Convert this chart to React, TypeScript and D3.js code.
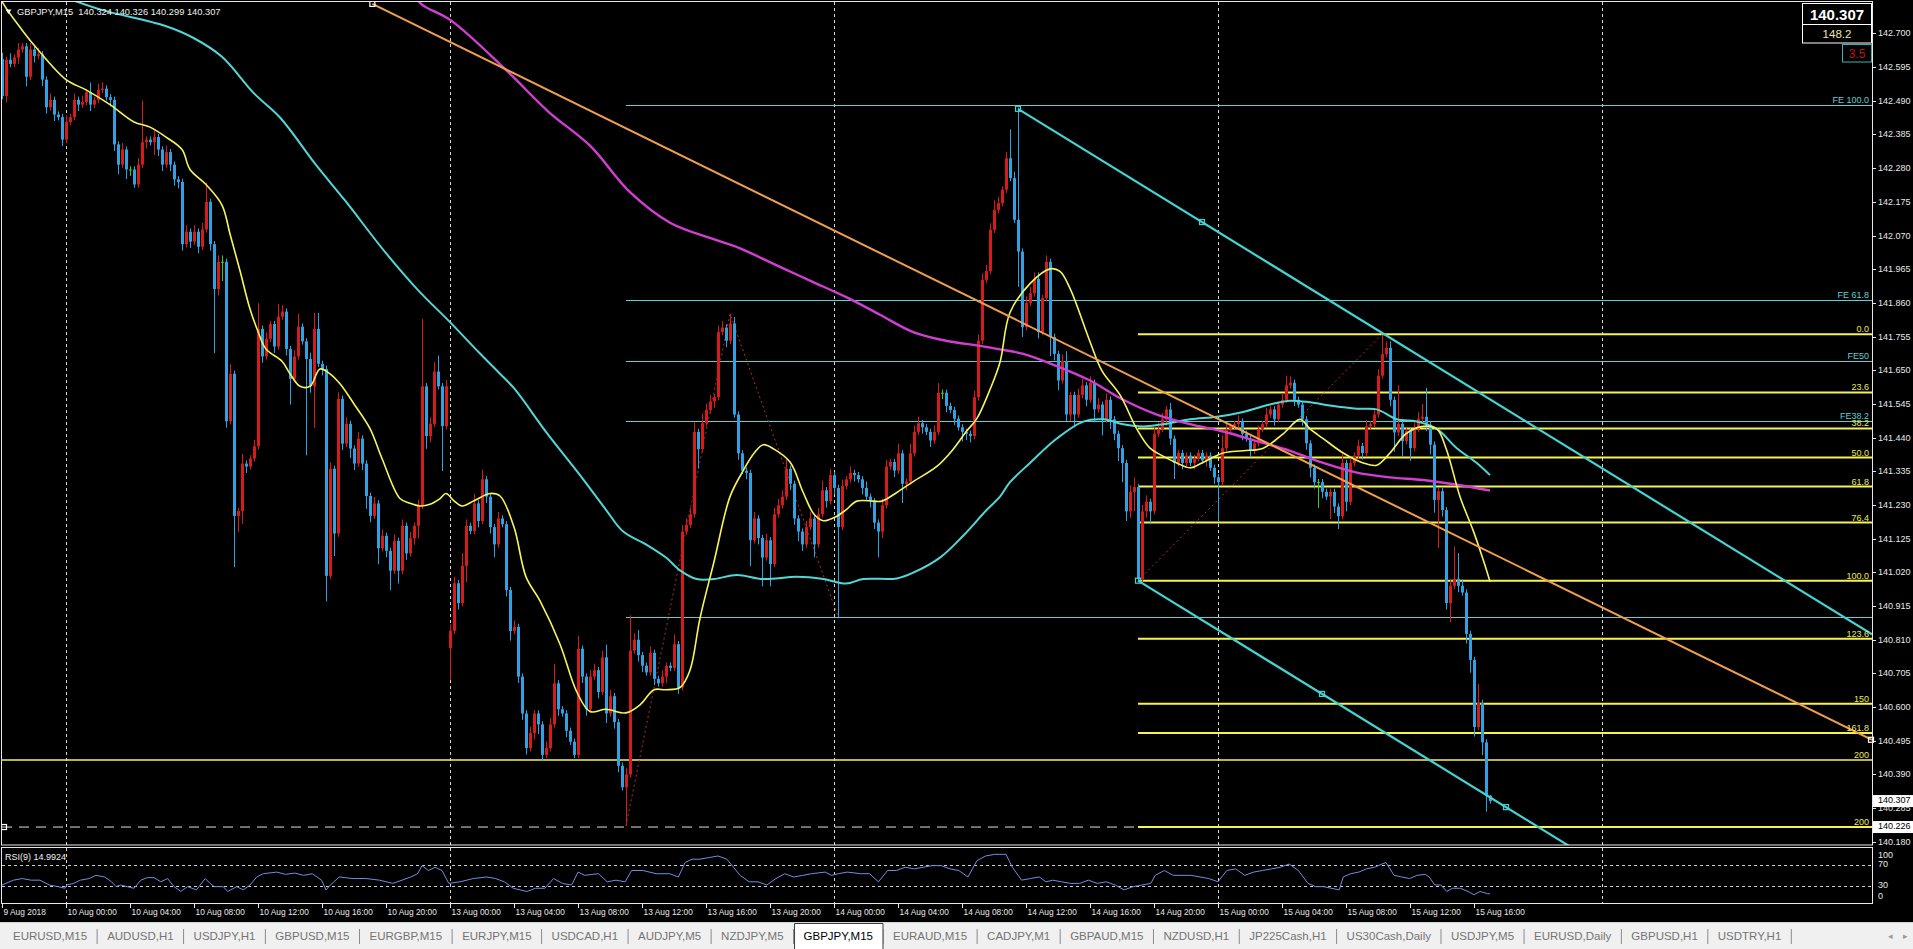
import React from "react";
import * as d3 from "d3";

// ---------------- data ----------------
const closes = [
  142.505,142.618,142.605,142.625,142.650,142.660,142.565,142.650,142.630,142.635,
  142.556,142.470,142.493,142.447,142.439,142.369,142.424,142.439,142.493,142.478,
  142.486,142.517,142.478,142.493,142.524,142.528,142.501,142.493,142.354,142.291,
  142.338,142.276,142.276,142.229,142.291,142.361,142.369,142.361,142.377,142.338,
  142.291,142.330,142.291,142.245,142.237,142.043,142.082,142.051,142.082,142.035,
  142.089,142.175,142.043,141.903,141.988,141.988,141.491,141.639,141.196,141.211,
  141.359,141.350,141.375,141.413,141.779,141.693,141.748,141.794,141.724,141.817,
  141.833,141.716,141.623,141.693,141.786,141.740,141.685,141.600,141.779,141.670,
  141.654,141.009,141.343,141.141,141.561,141.421,141.483,141.406,141.359,141.437,
  141.359,141.258,141.196,141.235,141.095,141.134,141.087,141.025,141.118,141.025,
  141.165,141.079,141.126,141.165,141.227,141.600,141.445,141.483,141.646,141.600,
  141.476,141.600,140.838,140.986,140.924,141.040,141.165,141.149,141.235,141.180,
  141.310,141.256,141.161,141.107,141.188,141.170,140.965,140.837,140.850,140.695,
  140.580,140.472,140.519,140.580,140.546,140.451,140.472,140.546,140.674,140.593,
  140.580,140.526,140.492,140.451,140.782,140.695,140.593,140.695,140.715,140.647,
  140.755,140.580,140.634,140.553,140.417,140.350,140.390,140.776,140.810,140.762,
  140.729,140.708,140.769,140.688,140.674,140.695,140.729,140.722,140.796,140.661,
  141.147,141.168,141.201,141.458,141.404,141.485,141.526,141.553,141.566,141.769,
  141.783,141.742,141.796,141.512,141.391,141.337,141.330,141.120,141.188,141.127,
  141.066,141.120,141.046,141.201,141.229,141.256,141.343,141.296,141.188,141.147,
  141.107,141.161,141.188,141.107,141.201,141.276,141.242,141.323,141.283,141.161,
  141.289,141.310,141.330,141.323,141.310,141.283,141.256,141.242,141.175,141.147,
  141.229,141.350,141.364,141.337,141.391,141.296,141.303,141.391,141.458,141.485,
  141.472,141.458,141.431,141.458,141.580,141.580,141.539,141.526,141.499,141.472,
  141.458,141.452,141.445,141.566,141.742,141.932,141.959,142.088,142.150,142.171,
  142.213,142.311,142.249,142.119,142.020,141.784,141.860,141.890,141.935,141.769,
  141.875,141.988,141.754,141.701,141.618,141.679,141.512,141.573,141.512,141.573,
  141.603,141.558,141.611,141.528,141.543,141.497,141.558,141.497,141.452,141.407,
  141.361,141.210,141.271,141.286,140.999,141.210,141.240,141.210,141.452,141.467,
  141.497,141.528,141.437,141.361,141.392,141.361,141.384,141.361,141.376,141.392,
  141.369,141.384,141.346,141.316,141.301,141.407,141.467,141.475,141.482,141.490,
  141.452,141.437,141.399,141.422,141.467,141.482,141.512,141.528,141.497,141.543,
  141.558,141.603,141.611,141.558,141.543,141.497,141.422,141.346,141.301,141.301,
  141.271,141.256,141.271,141.225,141.195,141.361,141.240,141.361,141.384,141.414,
  141.392,141.475,141.482,141.512,141.633,141.700,141.720,141.558,141.456,141.483,
  141.429,141.461,141.407,141.467,141.499,141.505,141.480,141.418,141.246,141.273,
  141.214,140.924,140.978,141.000,140.978,140.957,140.828,140.747,140.538,140.613,
  140.490,140.324,140.307,
];
// upper / lower shadow lengths, in 0.01 yen
const wickUp = [
  2,1,2,1,2,1,1,2,1,2, 1,1,2,1,1,1,2,1,2,1, 2,1,3,1,2,2,1,1,1,1, 2,1,1,1,2,13,1,1,2,1,
  1,2,1,1,1,1,2,1,2,1, 2,6,1,1,2,2,1,3,1,1, 3,1,1,2,8,1,2,1,1,4, 2,1,1,2,4,1,1,2,5,5,
  1,1,2,1,2,1,2,1,1,2, 1,1,1,2,1,2,1,1,2,1, 2,1,2,1,2,21,1,2,3,5, 1,2,2,2,1,4,2,1,3,1,
  3,1,1,1,2,1,1,1,2,1, 1,1,2,1,1,1,2,2,6,1, 1,1,1,1,4,1,1,2,2,1, 2,4,2,1,1,1,2,11,2,3,
  1,1,2,1,1,2,1,1,3,1, 2,2,2,3,1,3,2,2,1,2, 2,1,3,2,1,1,1,1,2,1, 1,2,1,2,2,2,3,1,1,1,
  1,2,2,1,2,3,1,2,1,1, 2,1,2,1,1,1,2,1,1,1, 2,2,1,1,3,1,1,3,2,2, 1,1,1,2,3,1,1,1,1,1,
  1,1,1,2,2,2,2,2,3,2, 1,2,9,2,35,1,2,2,2,2, 1,2,1,1,1,2,3,1,1,2, 2,1,2,1,2,1,2,1,1,1,
  1,1,2,3,1,2,2,1,2,2, 2,1,2,1,1,1,1,1,1,1, 1,1,1,1,1,4,2,1,1,2, 1,1,1,1,1,1,2,1,1,1,
  2,3,2,1,1,1,1,1,1,1, 1,1,1,1,1,3,1,2,1,2, 1,2,1,2,2,6,2,2,1,12, 1,1,1,2,2,4,9,1,1,1,
  1,1,2,10,8,2,1,1,1,6, 1,1,0.2,
];
const wickDn = [
  1,2,1,1,2,1,3,1,2,1, 2,2,1,2,1,2,1,1,1,2, 1,1,2,1,1,1,1,2,2,3, 1,3,2,1,1,1,2,1,4,2,
  2,1,2,2,2,2,1,2,1,2, 1,1,2,20,2,6,2,1,16,5, 4,2,1,1,1,2,1,1,2,1, 1,2,8,1,1,1,30,2,13,1,
  2,8,1,7,1,2,1,3,2,1, 2,4,2,1,5,1,2,6,1,4, 1,2,1,2,4,1,4,2,1,1, 14,1,10,1,2,1,5,1,1,2,
  1,2,2,4,1,1,2,3,1,2, 2,2,1,2,3,2,1,1,1,2, 1,2,1,1,1,2,2,1,1,2, 1,3,1,2,2,1,12,1,1,2,
  2,1,1,2,1,1,2,1,1,2, 1,1,1,1,6,1,1,1,2,1, 1,2,1,1,2,1,2,8,1,2, 9,1,7,1,1,1,1,2,2,3,
  2,1,1,4,1,1,2,1,2,28, 1,1,1,2,1,2,1,2,2,8, 2,1,1,2,1,6,2,1,1,1, 2,1,2,1,1,2,2,1,2,1,
  3,2,2,1,1,1,1,1,1,1, 1,1,1,1,11,3,1,1,1,2, 1,1,6,2,3,1,2,2,4,1, 1,2,1,4,1,5,1,3,2,4,
  6,3,2,6,1,1,2,4,1,1, 1,2,2,5,1,2,1,1,2,1, 1,2,1,2,12,1,1,1,1,1, 2,1,2,1,1,1,1,1,2,1,
  1,1,1,2,1,2,2,3,2,8, 2,1,7,2,4,1,3,1,1,1, 2,1,1,1,1,1,1,2,6,1, 5,1,4,1,1,1,2,3,4,15,
  2,2,6,1,2,1,3,4,3,1, 4,5,0.8,
];
const firstOpen = 142.62;
const gapOpens: Record<number, number> = { 112: 140.784 };

// moving averages: [bar index, price]
const yellowMA: [number, number][] = [
  [-1,142.84],[0,142.80],[5,142.711],[9,142.649],[16,142.556],[21,142.524],[27,142.478],[33,142.424],[37,142.408],[41,142.377],
  [45,142.338],[47,142.276],[51,142.229],[55,142.165],[57,142.075],[59.5,141.960],[62,141.841],[64,141.771],[66,141.716],[70,141.678],
  [72,141.639],[74.5,141.600],[77,141.600],[79.5,141.654],[82,141.639],[84.5,141.608],[88,141.545],[92,141.468],[95,141.375],[99.5,141.250],
  [102,141.235],[104.5,141.227],[107,141.232],[109.5,141.250],[111,141.266],[113,141.243],[115,141.227],[118,141.243],[122,141.266],[124.5,141.258],
  [128,141.161],[131,141.006],[134.5,140.931],[139.5,140.796],[143.7,140.647],[147,140.586],[151,140.593],[156,140.582],[159.5,140.607],[163,140.654],
  [166,140.654],[169.5,140.661],[172,140.715],[174.5,140.877],[178,141.053],[182,141.256],[185.3,141.337],[188,141.391],[190.3,141.418],[193,141.404],
  [197,141.364],[200.3,141.269],[203,141.201],[205.3,141.181],[208.7,141.195],[211,141.215],[213.7,141.242],[217.8,141.242],[220,141.242],[223.7,141.269],
  [227.8,141.303],[233.7,141.350],[237.8,141.404],[241,141.458],[243.7,141.499],[247,141.590],[249.5,141.675],[252,141.830],[257,141.920],[262,141.966],
  [264.5,141.958],[267,141.905],[272,141.739],[275,141.648],[279.5,141.573],[283.7,141.467],[287,141.407],[290,141.384],[293.7,141.361],[297,141.346],
  [300,141.361],[305.3,141.392],[310.3,141.399],[315.3,141.407],[320.3,141.452],[324.5,141.497],[327,141.467],[330.3,141.437],[335.3,141.392],[340.3,141.361],
  [343.7,141.354],[347,141.392],[351,141.452],[355.3,141.475],[358.7,141.467],[361,141.407],[364.5,141.256],[367.8,141.150],[370.3,141.059],[372,140.991],
];
const cyanMA: [number, number][] = [
  [12,142.83],[24.5,142.775],[40.7,142.724],[48,142.685],[55,142.627],[63,142.513],[69.5,142.438],[78.5,142.290],[85.7,142.180],[96,142.015],
  [104,141.900],[112,141.800],[119.5,141.702],[124.5,141.639],[128,141.594],[136,141.458],[144.5,141.323],[151,141.215],[155.3,141.147],[161,141.107],
  [166,141.066],[169.5,141.026],[173.7,140.999],[178,140.999],[183.7,141.012],[190.3,140.999],[198.7,141.006],[205.3,140.999],[211,140.985],[215.3,140.999],
  [223.7,141.001],[227.8,141.019],[234.5,141.066],[240.3,141.134],[246.2,141.215],[249.5,141.256],[252,141.301],[257,141.361],[263.7,141.437],[270.3,141.490],
  [275.3,141.497],[280.3,141.482],[285.3,141.475],[290.3,141.482],[297,141.497],[303.7,141.505],[310.3,141.520],[317,141.543],[322,141.555],[327,141.550],
  [332,141.540],[338.7,141.530],[343.7,141.528],[348.7,141.497],[353.7,141.490],[358.7,141.467],[363.7,141.407],[368.7,141.361],[372,141.323],
];
const magentaMA: [number, number][] = [
  [103,142.82],[105,142.79],[112.3,142.74],[126.5,142.58],[136.7,142.455],[147,142.35],[157,142.205],[167,142.11],[177.5,142.06],[184.5,142.03],
  [194.5,141.972],[202.8,141.925],[211.2,141.877],[219.5,141.823],[227.8,141.769],[236,141.742],[244.5,141.726],[249.5,141.715],[255.3,141.701],[263.7,141.663],
  [272,141.618],[280.3,141.558],[288.7,141.512],[297,141.482],[305.3,141.459],[313.7,141.429],[322,141.399],[330.3,141.361],[338.7,141.331],[347,141.316],
  [355.3,141.308],[363.7,141.293],[372,141.275],
];
// RSI(9): [bar index, value]
const rsiSeries: [number, number][] = [
  [0,31.9],[2.85,41.1],[5.1,44.2],[7.3,41.1],[9.5,41.1],[11.8,31.9],[14,28.8],[15.7,25.7],[16.2,31.9],[17.9,35.0],
  [19.6,41.1],[21.8,44.2],[23.5,50.3],[25.7,47.2],[27.4,38.0],[28.5,28.8],[29.6,31.9],[31.3,28.8],[33,25.7],[34.7,41.1],
  [36.3,46.0],[38,46.0],[39.7,38.0],[41.4,44.2],[43,28.8],[44.7,19.6],[46.4,28.8],[48.6,22.6],[50.8,44.2],[52,35.0],
  [53.1,28.8],[55.3,28.8],[56.4,19.6],[58.7,28.8],[60.3,22.6],[62,31.9],[63.7,47.2],[65.3,53.4],[68.7,56.5],[70.9,52.2],
  [73.2,54.6],[75.4,50.3],[77.6,53.4],[79.9,41.1],[81,22.6],[82.1,31.9],[84.3,47.2],[87.7,44.2],[91,44.2],[94.4,41.1],
  [97.7,35.0],[100,41.1],[102.2,47.2],[103.9,53.4],[105,68.8],[106.6,59.5],[108.3,65.7],[110,59.5],[111.7,35.0],[114.5,38.0],
  [117.8,44.2],[121.2,47.2],[123.4,44.2],[125.6,38.0],[127.8,25.7],[131.2,19.6],[133.4,25.7],[135.7,25.7],[137.9,44.2],[140.1,35.0],
  [142.4,31.9],[144,56.5],[145.7,50.3],[149.1,53.4],[151.3,38.0],[153.5,41.1],[155.8,38.0],[157.4,59.5],[160.2,59.5],[163.6,53.4],
  [166.9,53.4],[169.1,47.2],[170.8,74.9],[172.5,81.1],[174.5,81.1],[176.7,84.1],[179,87.2],[181.2,81.1],[182.9,65.7],[184.5,50.3],
  [186.8,38.0],[189,38.0],[191.2,31.9],[193.5,44.2],[195.7,53.4],[197.9,47.2],[200.2,50.3],[202.4,53.4],[205.8,56.5],[207.4,50.3],
  [209.1,53.4],[211.3,56.5],[214.7,53.4],[216.9,53.4],[219.1,38.0],[221.4,59.5],[223.6,59.5],[225.8,65.7],[228.1,62.6],[230.3,65.7],
  [232.5,68.8],[234.8,68.8],[237,62.6],[239.2,59.5],[241.5,47.2],[243.7,78.0],[245.9,87.2],[248.2,90.3],[251,90.3],[252.6,65.7],
  [254.9,41.1],[257.1,44.2],[259.3,47.2],[261,38.0],[262.7,41.1],[264.9,38.0],[267.1,35.0],[269.4,35.0],[271.6,41.1],[273.8,35.0],
  [276.1,38.0],[278.3,31.9],[280.5,22.6],[282.8,28.8],[285,31.9],[287.2,35.0],[288.3,50.3],[290.6,59.5],[292.8,50.3],[295,50.3],
  [297.3,50.3],[299.5,47.2],[301.7,44.2],[304,38.0],[306.2,59.5],[308.4,62.6],[310.7,50.3],[312.9,56.5],[315.1,59.5],[317.4,62.6],
  [319.6,65.7],[321.8,71.8],[324.1,59.5],[326.5,35.0],[328.4,28.8],[330.4,28.8],[332.3,25.7],[334.3,22.6],[335.3,47.2],[337.2,53.4],
  [339.2,56.5],[341.1,62.6],[343.1,65.7],[345,71.8],[346,74.9],[348,50.3],[349.9,47.2],[351.9,44.2],[353.8,50.3],[355.8,52.2],
  [356.8,47.2],[358.2,31.9],[359.7,31.9],[361.2,19.6],[362.6,25.7],[364.6,25.7],[366.5,19.6],[368,13.4],[369.5,19.6],[371.4,15.3],
  [372,14.99],
];

const priceTicks = [
  "142.700","142.595","142.490","142.385","142.280","142.175","142.070","141.965","141.860","141.755",
  "141.650","141.545","141.440","141.335","141.230","141.125","141.020","140.915","140.810","140.705",
  "140.600","140.495","140.390","140.285","140.180",
];
const rsiTicks = [100, 70, 30, 0];
const rsiLevels = [70, 30];
const timeLabels = [
  "9 Aug 2018","10 Aug 00:00","10 Aug 04:00","10 Aug 08:00","10 Aug 12:00","10 Aug 16:00","10 Aug 20:00",
  "13 Aug 00:00","13 Aug 04:00","13 Aug 08:00","13 Aug 12:00","13 Aug 16:00","13 Aug 20:00",
  "14 Aug 00:00","14 Aug 04:00","14 Aug 08:00","14 Aug 12:00","14 Aug 16:00","14 Aug 20:00",
  "15 Aug 00:00","15 Aug 04:00","15 Aug 08:00","15 Aug 12:00","15 Aug 16:00",
];
const barsPerLabel = 16;
const barsPerDay = 96;
const tabNames = [
  "EURUSD,M15","AUDUSD,H1","USDJPY,H1","GBPUSD,M15","EURGBP,M15","EURJPY,M15","USDCAD,H1","AUDJPY,M5",
  "NZDJPY,M5","GBPJPY,M15","EURAUD,M15","CADJPY,M1","GBPAUD,M15","NZDUSD,H1","JP225Cash,H1","US30Cash,Daily",
  "USDJPY,M5","EURUSD,Daily","GBPUSD,H1","USDTRY,H1",
];
const activeTab = "GBPJPY,M15";

// Fibonacci expansion (cyan) anchors A, B, C
const feA: [number, number] = [156, 140.23];
const feB: [number, number] = [182, 141.826];
const feC: [number, number] = [209, 140.882];
const feRatios = [1, 0.618, 0.5, 0.382, 0];
const feNames = ["FE 100.0", "FE 61.8", "FE50", "FE38.2", ""];
// Fibonacci retracement (yellow)
const fibLow: [number, number] = [284, 140.994];
const fibHigh: [number, number] = [345, 141.762];
const fibRatios = [0, 0.236, 0.382, 0.5, 0.618, 0.764, 1, 1.236, 1.5, 1.618, 2];
const fibNames = ["0.0", "23.6", "38.2", "50.0", "61.8", "76.4", "100.0", "123.6", "150", "161.8", "200"];
// channel & trend line anchors
const chanP1: [number, number] = [254, 142.465];
const chanP2: [number, number] = [300, 142.112];
const chanP3: [number, number] = [284, 140.994];
const orangeP1: [number, number] = [92.6, 142.792];
const orangeP2: [number, number] = [467.5, 140.498];
const levelLine = { price: 140.435, label: "200" };
const dashedLevel = 140.226;
const header = ["GBPJPY,M15", "140.324", "140.326", "140.299", "140.307"];
const rsiName = "RSI(9) 14.9924";
const bidPrice = 140.307;
const infoValues = ["140.307", "148.2", "3.5"];

// ---------------- component ----------------
const FONT = "'Liberation Sans', Arial, sans-serif";
const AX = 1872;
const MT = 2, MB = 845;
const RT = 848, RB = 903;

function measure(t: string, f: string) {
  const c = document.createElement("canvas").getContext("2d");
  if (!c) return t.length * 6;
  c.font = f;
  return c.measureText(t).width;
}

export default function App() {
  const x = d3.scaleLinear().domain([0, 467.5]).range([2, AX]);
  const y = d3.scaleLinear().domain([140.17, 142.798]).range([MB, MT]);
  const ry = d3.scaleLinear().domain([0, 100]).range([901.75, 849.25]);

  const maLine = d3.line<[number, number]>().x(d => x(d[0])).y(d => y(d[1])).curve(d3.curveCatmullRom.alpha(0.5));
  const rsiLine = d3.line<[number, number]>().x(d => x(d[0])).y(d => ry(d[1]));

  // candles
  const candles = closes.map((c, i) => {
    const o = i === 0 ? firstOpen : (gapOpens[i] ?? closes[i - 1]);
    const top = Math.max(o, c), bot = Math.min(o, c);
    const h = top + wickUp[i] * 0.01, l = bot - wickDn[i] * 0.01;
    const cx = Math.round(x(i));
    const col = c > o ? "#d41c1c" : c < o ? "#2ea2e2" : "#3cc83c";
    const yt = y(top), yb = y(bot);
    return (
      <g key={i}>
        <rect x={cx} y={y(h)} width={1} height={Math.max(1, y(l) - y(h))} fill={col} />
        <rect x={cx - 1} y={yt} width={3} height={Math.max(1, yb - yt)} fill={col} />
      </g>
    );
  });

  // grid day lines
  const dayBars: number[] = [];
  for (let b = barsPerLabel; x(b) < AX; b += barsPerDay) dayBars.push(b);

  // FE levels
  const feRange = feB[1] - feA[1];
  const feLines = feRatios.map((r, k) => ({ p: feC[1] + r * feRange, name: feNames[k] }));
  const fibRange = fibHigh[1] - fibLow[1];
  const fibLines = fibRatios.map((r, k) => ({ p: fibHigh[1] - r * fibRange, name: fibNames[k] }));

  // channel
  const slope = (chanP2[1] - chanP1[1]) / (chanP2[0] - chanP1[0]);
  const iEnd = 467.5;
  const step = chanP2[0] - chanP1[0];
  const lowerSquares = [0, 1, 2].map(k => [chanP3[0] + k * step, chanP3[1] + k * step * slope] as [number, number]);
  const lowerEndI = 420;

  // tabs layout
  const tabFont = `11.5px ${FONT}`;
  let cur = 13;
  const tabs = tabNames.map(n => {
    const w = measure(n, tabFont);
    const t = { n, x: cur, w };
    cur += w + 20;
    return t;
  });

  const white = "#e8e8e8";
  const sq = (px: number, py: number, col: string, k: string) => (
    <rect key={k} x={px - 2.5} y={py - 2.5} width={5} height={5} fill="none" stroke={col} strokeWidth={1.2} />
  );

  return (
    <div style={{ position: "absolute", left: 0, top: 0, width: 1913, height: 949, overflow: "hidden" }}>
      <svg width={1913} height={949} style={{ display: "block", fontFamily: FONT }}>
        <defs>
          <clipPath id="mainClip"><rect x={2} y={MT} width={AX - 2} height={MB - MT} /></clipPath>
          <clipPath id="rsiClip"><rect x={2} y={RT} width={AX - 2} height={RB - RT} /></clipPath>
        </defs>
        <rect x={0} y={0} width={1913} height={949} fill="#000" />

        {/* ---------- main panel ---------- */}
        <g clipPath="url(#mainClip)">
          {dayBars.map(b => (
            <line key={b} x1={x(b) + 0.5} x2={x(b) + 0.5} y1={MT} y2={MB} stroke="#d8d8d8" strokeDasharray="3,3" strokeWidth={1} />
          ))}
          {/* FE cyan */}
          {feLines.map((f, k) => (
            <line key={"fe" + k} x1={x(feA[0])} x2={AX} y1={Math.round(y(f.p)) + 0.5} y2={Math.round(y(f.p)) + 0.5} stroke="#5cd0d4" strokeWidth={1} />
          ))}
          {/* dashed horizontal */}
          <line x1={2} x2={AX} y1={y(dashedLevel)} y2={y(dashedLevel)} stroke="#e0e0e0" strokeDasharray="10,7" strokeWidth={1} />
          {/* full yellow level */}
          <line x1={2} x2={AX} y1={y(levelLine.price)} y2={y(levelLine.price)} stroke="#f4f25a" strokeWidth={1.6} />
          {/* yellow fib */}
          {fibLines.map((f, k) => (
            <line key={"fib" + k} x1={x(fibLow[0])} x2={AX} y1={y(f.p)} y2={y(f.p)} stroke="#f6f44c" strokeWidth={2} />
          ))}
          {/* red dotted fib trend lines */}
          <path d={`M${x(feA[0])},${y(feA[1])}L${x(feB[0])},${y(feB[1])}L${x(feC[0])},${y(feC[1])}`} fill="none" stroke="#b03030" strokeDasharray="2,3" strokeWidth={1} />
          <line x1={x(fibLow[0])} y1={y(fibLow[1])} x2={x(fibHigh[0])} y2={y(fibHigh[1])} stroke="#b03030" strokeDasharray="2,3" strokeWidth={1} />

          {candles}

          {/* moving averages */}
          <path d={maLine(cyanMA) || ""} fill="none" stroke="#52d6d6" strokeWidth={2} />
          <path d={maLine(magentaMA) || ""} fill="none" stroke="#d23ed2" strokeWidth={2.4} />
          <path d={maLine(yellowMA) || ""} fill="none" stroke="#f8f45c" strokeWidth={1.6} />

          {/* orange trend line */}
          <line x1={x(orangeP1[0])} y1={y(orangeP1[1])} x2={x(orangeP2[0])} y2={y(orangeP2[1])} stroke="#f0a04c" strokeWidth={2} />
          {sq(x(orangeP1[0]), y(orangeP1[1]), "#ffffff", "o1")}

          {/* channel */}
          <line x1={x(chanP1[0])} y1={y(chanP1[1])} x2={x(iEnd)} y2={y(chanP1[1] + (iEnd - chanP1[0]) * slope)} stroke="#44d4d4" strokeWidth={2.2} />
          <line x1={x(chanP3[0])} y1={y(chanP3[1])} x2={x(lowerEndI)} y2={y(chanP3[1] + (lowerEndI - chanP3[0]) * slope)} stroke="#44d4d4" strokeWidth={2.2} />
          {sq(x(chanP1[0]), y(chanP1[1]), "#44d4d4", "c1")}
          {sq(x(chanP2[0]), y(chanP2[1]), "#44d4d4", "c2")}
          {lowerSquares.map((p, k) => sq(x(p[0]), y(p[1]), "#44d4d4", "l" + k))}
          {sq(4, y(dashedLevel), "#ffffff", "dl")}
        </g>
        {sq(AX - 1, y(orangeP2[1]), "#ffffff", "o2")}

        {/* labels of levels */}
        {feLines.filter(f => f.name).map((f, k) => (
          <text key={"fel" + k} x={1869} y={y(f.p) - 2} textAnchor="end" fontSize={9} fill="#5cd0d4">{f.name}</text>
        ))}
        {fibLines.map((f, k) => (
          <text key={"fibl" + k} x={1869} y={y(f.p) - 2} textAnchor="end" fontSize={9} fill="#ecea50">{f.name}</text>
        ))}
        <text x={1869} y={y(levelLine.price) - 2} textAnchor="end" fontSize={9} fill="#ecea50">{levelLine.label}</text>

        {/* header */}
        <path d="M5.5,9.5 L11.5,9.5 L8.5,14 Z" fill="#fff" />
        <text x={17} y={15} fontSize={9.3} fill="#f0f0f0" xmlSpace="preserve">{`${header[0]}  ${header[1]} ${header[2]} ${header[3]} ${header[4]}`}</text>

        {/* panel borders */}
        <rect x={1.5} y={1.5} width={AX - 1} height={MB - 1.5} fill="none" stroke={white} strokeWidth={1} />

        {/* ---------- RSI panel ---------- */}
        <rect x={1.5} y={RT - 0.5} width={AX - 1} height={RB - RT + 1} fill="none" stroke={white} strokeWidth={1} />
        <g clipPath="url(#rsiClip)">
          {dayBars.map(b => (
            <line key={"r" + b} x1={x(b) + 0.5} x2={x(b) + 0.5} y1={RT} y2={RB} stroke="#d8d8d8" strokeDasharray="3,3" strokeWidth={1} />
          ))}
          {rsiLevels.map(v => (
            <line key={"rl" + v} x1={2} x2={AX} y1={Math.round(ry(v)) + 0.5} y2={Math.round(ry(v)) + 0.5} stroke="#cfcfcf" strokeDasharray="3,3" strokeWidth={1} />
          ))}
          <path d={rsiLine(rsiSeries) || ""} fill="none" stroke="#6f8fe0" strokeWidth={1} />
        </g>
        <text x={5} y={860} fontSize={9} fill="#f0f0f0">{rsiName}</text>
        {rsiTicks.map(v => (
          <text key={"rt" + v} x={1878} y={v === 100 ? ry(v) + 6 : v === 0 ? ry(v) - 5 : ry(v)} dominantBaseline="middle" fontSize={9} fill={white}>{v}</text>
        ))}

        {/* ---------- price axis ---------- */}
        {priceTicks.map(t => {
          const yy = Math.round(y(+t)) + 0.5;
          return (
            <g key={t}>
              <line x1={AX} x2={AX + 4} y1={yy} y2={yy} stroke={white} />
              <text x={1878} y={yy} dominantBaseline="middle" fontSize={9} fill={white}>{t}</text>
            </g>
          );
        })}
        {[bidPrice, dashedLevel].map(p => (
          <g key={"box" + p}>
            <rect x={AX + 1} y={y(p) - 6} width={40} height={12} fill="#ffffff" />
            <text x={1878} y={y(p)} dominantBaseline="middle" fontSize={9} fill="#000">{p.toFixed(3)}</text>
          </g>
        ))}

        {/* info boxes */}
        <rect x={1802.5} y={3.5} width={69} height={21} fill="#000" stroke="#ffffff" />
        <text x={1837} y={20} textAnchor="middle" fontSize={15} fontWeight="bold" fill="#ffffff">{infoValues[0]}</text>
        <rect x={1802.5} y={24.5} width={69} height={18.5} fill="#000" stroke="#ffffff" />
        <text x={1837} y={38} textAnchor="middle" fontSize={11.5} fill="#efe6a8">{infoValues[1]}</text>
        <rect x={1842.5} y={44.5} width={29} height={17.5} fill="#000" stroke="#3cb4b4" />
        <text x={1857} y={58} textAnchor="middle" fontSize={12} fill="#c01414">{infoValues[2]}</text>

        {/* ---------- time axis ---------- */}
        {timeLabels.map((t, k) => {
          const xx = Math.round(x(k * barsPerLabel)) + 0.5;
          return (
            <g key={t}>
              <line x1={xx} x2={xx} y1={RB} y2={RB + 5} stroke={white} />
              <text x={xx + 1} y={915} fontSize={8.4} fill={white}>{t}</text>
            </g>
          );
        })}

        {/* ---------- tab bar ---------- */}
        <rect x={0} y={922} width={1913} height={27} fill="#f0f0f0" />
        <line x1={0} x2={1913} y1={922.5} y2={922.5} stroke="#d4d4d4" />
        {tabs.map((t, k) => (
          <line key={"sep" + k} x1={t.x + t.w + 10} x2={t.x + t.w + 10} y1={929} y2={944} stroke="#8a8a8a" />
        ))}
        {tabs.map(t => {
          const active = t.n === activeTab;
          return (
            <g key={t.n}>
              {active && (
                <path d={`M${t.x - 9},949 L${t.x - 9},923.5 L${t.x + t.w + 10},923.5 L${t.x + t.w + 10},949`} fill="#ffffff" stroke="#3c3c3c" />
              )}
              <text x={t.x} y={940} fontSize={11.5} fill={active ? "#000" : "#747474"}>{t.n}</text>
            </g>
          );
        })}
        <text x={1888} y={939} fontSize={9} fill="#9a9a9a">◂</text>
        <text x={1903} y={939} fontSize={9} fill="#9a9a9a">▸</text>
      </svg>
    </div>
  );
}
